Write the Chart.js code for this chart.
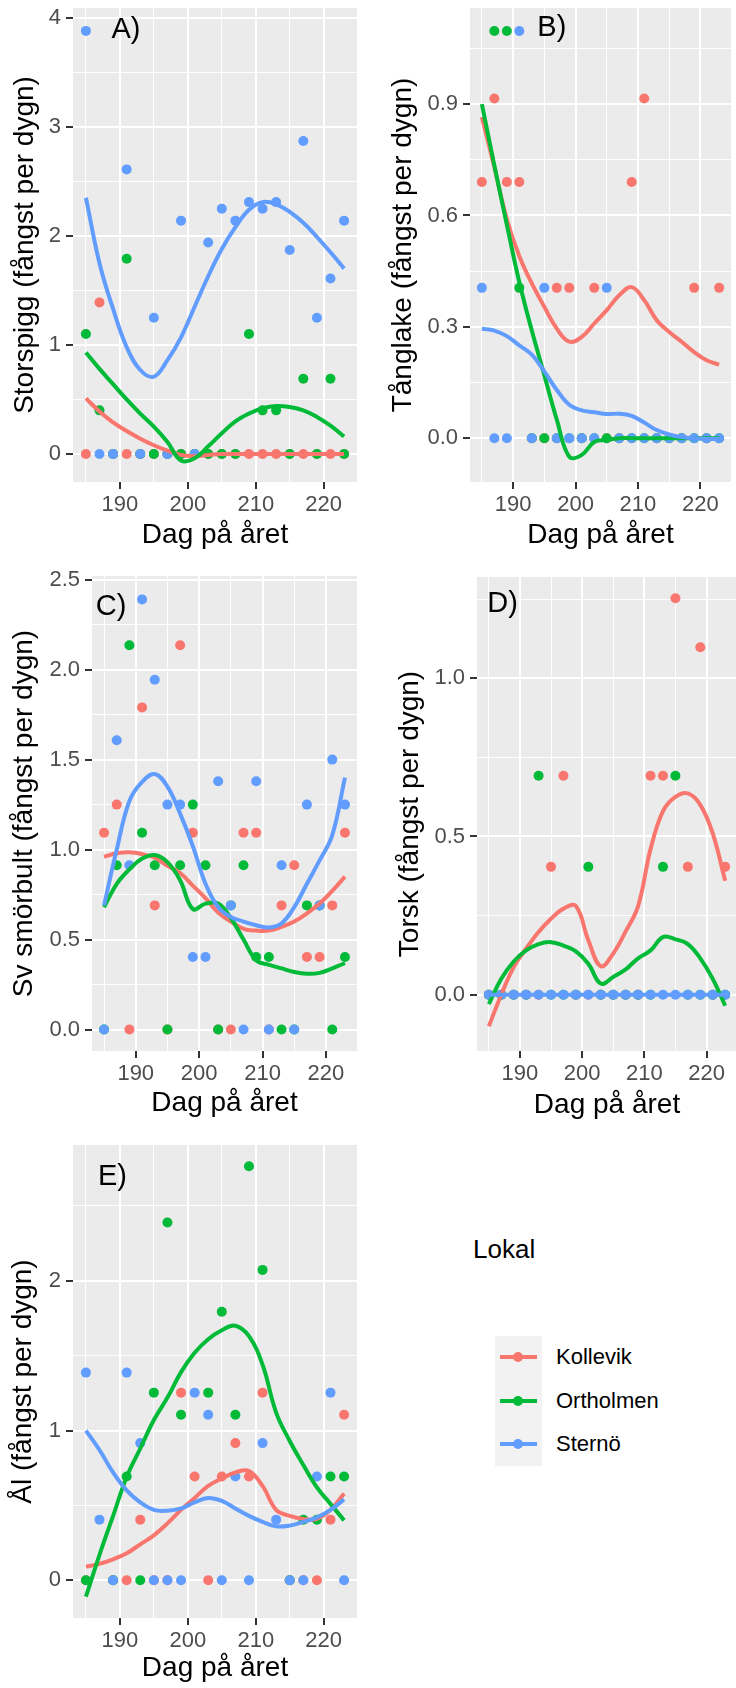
<!DOCTYPE html>
<html>
<head>
<meta charset="utf-8">
<script src="https://cdn.jsdelivr.net/npm/chart.js@4.4.1/dist/chart.umd.min.js"></script>
<style>
  body { margin: 0; background: #ffffff; }
  #page { position: relative; width: 736px; height: 1688px; overflow: hidden; font-family: "Liberation Sans", Arial, sans-serif; }
  #page canvas { position: absolute; }
  .lg { position: absolute; }
</style>
</head>
<body>
<div id="page">
  <canvas id="panelA" width="366" height="560" style="left:0px;top:0px"></canvas>
  <canvas id="panelB" width="370" height="560" style="left:366px;top:0px"></canvas>
  <canvas id="panelC" width="366" height="580" style="left:0px;top:560px"></canvas>
  <canvas id="panelD" width="376" height="580" style="left:366px;top:560px"></canvas>
  <canvas id="panelE" width="366" height="548" style="left:0px;top:1140px"></canvas>
</div>
<script>
// sampling days (day of year)
const days = [185, 187, 189, 191, 193, 195, 197, 199, 201, 203, 205, 207, 209, 211, 213, 215, 217, 219, 221, 223];
const sites = ['Kollevik', 'Ortholmen', 'Sternö'];
const siteColors = ['#F8766D', '#00BA38', '#619CFF'];
const xTickLabels = [190, 200, 210, 220];

// A) Storspigg
const storspiggTicks = [0, 1, 2, 3, 4];
const storspiggKollevik = [0, 1.39, 0, 0, 0, 0, 0, 0, 0, 0, 0, 0, 0, 0, 0, 0, 0, 0, 0, 0];
const storspiggOrtholmen = [1.10, 0.40, 0, 1.79, 0, 0, 0, 0, 0, 0, 0, 0, 1.10, 0.40, 0.40, 0, 0.69, 0, 0.69, 0];
const storspiggSterno = [3.88, 0, 0, 2.61, 0, 1.25, 0, 2.14, 0, 1.94, 2.25, 2.14, 2.31, 2.25, 2.31, 1.87, 2.87, 1.25, 1.61, 2.14];
const storspiggKollevikFit = [0.51, 0.39, 0.29, 0.21, 0.14, 0.08, 0.03, -0.01, -0.02, -0.01, 0, 0, 0, 0, 0, 0, 0, 0, 0, 0];
const storspiggOrtholmenFit = [0.93, 0.78, 0.64, 0.50, 0.37, 0.25, 0.11, -0.06, -0.04, 0.07, 0.19, 0.30, 0.37, 0.42, 0.44, 0.43, 0.40, 0.34, 0.26, 0.16];
const storspiggSternoFit = [2.35, 1.75, 1.33, 0.98, 0.77, 0.71, 0.86, 1.07, 1.35, 1.63, 1.88, 2.08, 2.24, 2.31, 2.29, 2.22, 2.12, 1.99, 1.85, 1.70];

// B) Tånglake
const tanglakeTicks = [0, 0.3, 0.6, 0.9];
const tanglakeKollevik = [0.69, 0.915, 0.69, 0.69, 0, 0, 0.405, 0.405, 0, 0.405, 0, 0, 0.69, 0.915, 0, 0, 0, 0.405, 0, 0.405];
const tanglakeOrtholmen = [null, 1.097, 1.097, 0.405, 0, 0, 0, 0, 0, 0, 0, 0, 0, 0, 0, 0, 0, 0, 0, 0];
const tanglakeSterno = [0.405, 0, 0, 1.097, 0, 0.405, 0, 0, 0, 0, 0.405, 0, 0, 0, 0, 0, 0, 0, 0, 0];
const tanglakeKollevikFit = [0.865, 0.73, 0.59, 0.49, 0.417, 0.354, 0.295, 0.26, 0.273, 0.309, 0.345, 0.385, 0.407, 0.372, 0.318, 0.286, 0.26, 0.232, 0.21, 0.198];
const tanglakeOrtholmenFit = [0.90, 0.735, 0.575, 0.42, 0.29, 0.17, 0.05, -0.05, -0.045, -0.01, -0.005, 0, 0, 0, 0, 0, 0, 0, 0, 0];
const tanglakeSternoFit = [0.295, 0.29, 0.275, 0.25, 0.225, 0.18, 0.13, 0.09, 0.075, 0.07, 0.065, 0.066, 0.06, 0.042, 0.022, 0.01, 0.003, 0, -0.002, -0.002];

// C) Sv smörbult
const smorbultTicks = [0, 0.5, 1, 1.5, 2, 2.5];
const smorbultKollevik = [1.094, 1.25, 0, 1.79, 0.69, 0, 2.135, 1.094, null, 0, 0, 1.094, 1.094, 0, 0.69, 0.913, 0.403, 0.403, 0.69, 1.094];
const smorbultOrtholmen = [0, 0.913, 2.135, 1.094, 0.913, 0, 0.913, 1.25, 0.913, 0, 0.69, 0.913, 0.403, 0.403, 0, 0, 0.69, 0.69, 0, 0.403];
const smorbultSterno = [0, 1.607, 0.913, 2.39, 1.944, 1.25, 1.25, 0.403, 0.403, 1.38, 0.69, 0, 1.38, 0, 0.913, 0, 1.25, 0.69, 1.50, 1.25];
const smorbultKollevikFit = [0.96, 0.98, 0.985, 0.975, 0.955, 0.91, 0.87, 0.80, 0.73, 0.65, 0.60, 0.56, 0.55, 0.55, 0.57, 0.60, 0.645, 0.70, 0.77, 0.85];
const smorbultOrtholmenFit = [0.68, 0.81, 0.89, 0.95, 0.97, 0.93, 0.83, 0.67, 0.70, 0.70, 0.62, 0.50, 0.385, 0.36, 0.34, 0.32, 0.31, 0.315, 0.34, 0.37];
const smorbultSternoFit = [0.69, 1.0, 1.27, 1.376, 1.42, 1.35, 1.2, 1.02, 0.81, 0.68, 0.626, 0.60, 0.58, 0.567, 0.59, 0.68, 0.81, 0.94, 1.08, 1.40];

// D) Torsk
const torskTicks = [0, 0.5, 1];
const torskKollevik = [0, 0, 0, 0, 0, 0.404, 0.692, 0, 0, 0, 0, 0, 0, 0.692, 0.692, 1.253, 0.404, 1.098, 0, 0.404];
const torskOrtholmen = [0, 0, 0, 0, 0.692, 0, 0, 0, 0.404, 0, 0, 0, 0, 0, 0.404, 0.692, 0, 0, 0, 0];
const torskSterno = [0, 0, 0, 0, 0, 0, 0, 0, 0, 0, 0, 0, 0, 0, 0, 0, 0, 0, 0, 0];
const torskKollevikFit = [-0.10, 0.0, 0.087, 0.146, 0.198, 0.24, 0.272, 0.28, 0.172, 0.09, 0.13, 0.20, 0.28, 0.46, 0.58, 0.625, 0.636, 0.60, 0.51, 0.36];
const torskOrtholmenFit = [-0.03, 0.05, 0.105, 0.14, 0.16, 0.166, 0.155, 0.137, 0.098, 0.035, 0.056, 0.08, 0.115, 0.14, 0.182, 0.175, 0.16, 0.115, 0.05, -0.035];
const torskSternoFit = [0, 0, 0, 0, 0, 0, 0, 0, 0, 0, 0, 0, 0, 0, 0, 0, 0, 0, 0, 0];

// E) Ål
const alTicks = [0, 1, 2];
const alKollevik = [0, null, 0, 0, 0.405, 0, 0, 1.253, 0.693, 0, 0.693, 0.916, 0.693, 1.253, null, 0, 0, 0, 0.405, 1.105];
const alOrtholmen = [0, null, 0, 0.693, 0, 1.253, 2.39, 1.105, null, 1.253, 1.793, 1.105, 2.765, 2.073, null, 0, 0.405, 0.405, 0.693, 0.693];
const alSterno = [1.387, 0.405, 0, 1.387, 0.916, 0, 0, 0, 1.253, 1.105, 0, 0.693, 0, 0.916, 0.405, 0, 0, 0.693, 1.253, 0];
const alKollevikFit = [0.09, 0.11, 0.14, 0.18, 0.24, 0.30, 0.38, 0.47, 0.55, 0.63, 0.68, 0.72, 0.73, 0.63, 0.47, 0.43, 0.41, 0.41, 0.47, 0.58];
const alOrtholmenFit = [-0.11, 0.17, 0.43, 0.69, 0.88, 1.07, 1.22, 1.39, 1.52, 1.61, 1.67, 1.70, 1.63, 1.44, 1.12, 0.93, 0.77, 0.62, 0.51, 0.40];
const alSternoFit = [1.0, 0.87, 0.72, 0.60, 0.52, 0.47, 0.465, 0.48, 0.52, 0.55, 0.53, 0.48, 0.43, 0.39, 0.36, 0.365, 0.39, 0.42, 0.47, 0.54];

const FONT = '"Liberation Sans", Arial, sans-serif';
Chart.defaults.font.family = FONT;

const panels = [
  { id: 'panelA', title: 'Storspigg (fångst per dygn)', label: 'A)', labelAt: [190.9, 3.885],
    ticks: storspiggTicks, minor: 0.5, decimals: 0, yMin: -0.257, yMax: 4.09,
    points: [storspiggKollevik, storspiggOrtholmen, storspiggSterno],
    fits: [storspiggKollevikFit, storspiggOrtholmenFit, storspiggSternoFit],
    box: { left: 73, top: 8, right: 357, bottom: 482, yTitleX: 25, xTitleY: 535 } },
  { id: 'panelB', title: 'Tånglake (fångst per dygn)', label: 'B)', labelAt: [196.2, 1.104],
    ticks: tanglakeTicks, minor: 0.15, decimals: 1, yMin: -0.118, yMax: 1.159,
    points: [tanglakeKollevik, tanglakeOrtholmen, tanglakeSterno],
    fits: [tanglakeKollevikFit, tanglakeOrtholmenFit, tanglakeSternoFit],
    box: { left: 104, top: 8, right: 369, bottom: 482, yTitleX: 37, xTitleY: 535 } },
  { id: 'panelC', title: 'Sv smörbult (fångst per dygn)', label: 'C)', labelAt: [186.1, 2.345],
    ticks: smorbultTicks, minor: 0.25, decimals: 1, yMin: -0.119, yMax: 2.52,
    points: [smorbultKollevik, smorbultOrtholmen, smorbultSterno],
    fits: [smorbultKollevikFit, smorbultOrtholmenFit, smorbultSternoFit],
    box: { left: 92, top: 16, right: 357, bottom: 491, yTitleX: 24, xTitleY: 543 } },
  { id: 'panelD', title: 'Torsk (fångst per dygn)', label: 'D)', labelAt: [187.2, 1.235],
    ticks: torskTicks, minor: 0.25, decimals: 1, yMin: -0.178, yMax: 1.32,
    points: [torskKollevik, torskOrtholmen, torskSterno],
    fits: [torskKollevikFit, torskOrtholmenFit, torskSternoFit],
    box: { left: 111, top: 17, right: 374, bottom: 491, yTitleX: 44, xTitleY: 545 } },
  { id: 'panelE', title: 'Ål (fångst per dygn)', label: 'E)', labelAt: [188.9, 2.693],
    ticks: alTicks, minor: 0.5, decimals: 0, yMin: -0.252, yMax: 2.907,
    points: [alKollevik, alOrtholmen, alSterno],
    fits: [alKollevikFit, alOrtholmenFit, alSternoFit],
    box: { left: 73, top: 5, right: 357, bottom: 478, yTitleX: 23, xTitleY: 528 } }
];

function isMajor(v, list) {
  return list.some(m => Math.abs(m - v) < 1e-6);
}

function pairs(vals) {
  const out = [];
  vals.forEach((v, i) => { if (v !== null) out.push({ x: days[i], y: v }); });
  return out;
}

const panelBackground = {
  id: 'panelBackground',
  beforeDraw(chart) {
    const { ctx, chartArea: a } = chart;
    ctx.save();
    ctx.fillStyle = '#EBEBEB';
    ctx.fillRect(a.left, a.top, a.right - a.left, a.bottom - a.top);
    ctx.restore();
  }
};

panels.forEach(p => {
  const canvas = document.getElementById(p.id);
  const W = canvas.width, H = canvas.height;
  const b = p.box;
  const titleHalf = 28 * 1.2 / 2;

  const datasets = [];
  // smoothed lines drawn above the points (lower order = on top)
  p.fits.forEach((vals, s) => datasets.push({
    label: sites[s] + ' fit',
    data: pairs(vals),
    showLine: true,
    borderColor: siteColors[s],
    borderWidth: 4,
    pointRadius: 0,
    tension: 0.4,
    fill: false,
    order: 2 - s
  }));
  p.points.forEach((vals, s) => datasets.push({
    label: sites[s],
    data: pairs(vals),
    backgroundColor: siteColors[s],
    borderWidth: 0,
    pointRadius: 5,
    pointHoverRadius: 5,
    order: 5 - s
  }));

  const panelLabel = {
    id: 'panelLabel',
    afterDatasetsDraw(chart) {
      const { ctx, scales } = chart;
      ctx.save();
      ctx.font = '29px ' + FONT;
      ctx.fillStyle = '#000000';
      ctx.textAlign = 'center';
      ctx.textBaseline = 'middle';
      ctx.fillText(p.label, scales.x.getPixelForValue(p.labelAt[0]), scales.y.getPixelForValue(p.labelAt[1]));
      ctx.restore();
    }
  };

  new Chart(canvas, {
    type: 'scatter',
    data: { datasets },
    options: {
      responsive: false,
      animation: false,
      devicePixelRatio: 1,
      layout: { padding: { top: b.top, right: W - b.right, left: 0, bottom: 0 } },
      plugins: { legend: { display: false }, tooltip: { enabled: false } },
      scales: {
        x: {
          type: 'linear',
          min: 183.1,
          max: 224.9,
          ticks: {
            stepSize: 5,
            autoSkip: false,
            maxRotation: 0,
            includeBounds: false,
            padding: 3,
            color: '#4D4D4D',
            font: { size: 22 },
            callback: v => isMajor(v, xTickLabels) ? String(v) : ''
          },
          grid: {
            color: '#FFFFFF',
            lineWidth: c => (c.tick && isMajor(c.tick.value, xTickLabels)) ? 2 : 1,
            tickLength: 7,
            tickWidth: 2,
            tickColor: c => (c.tick && isMajor(c.tick.value, xTickLabels)) ? '#333333' : 'rgba(0,0,0,0)'
          },
          border: { display: false },
          title: {
            display: true,
            text: 'Dag på året',
            color: '#000000',
            font: { size: 28 },
            padding: { top: 0, bottom: (H - b.xTitleY) - titleHalf }
          },
          afterFit: s => {
            s.height = H - b.bottom;
            s.paddingLeft = 0; s.paddingRight = 0;
          }
        },
        y: {
          type: 'linear',
          min: p.yMin,
          max: p.yMax,
          ticks: {
            stepSize: p.minor,
            autoSkip: false,
            includeBounds: false,
            padding: 5,
            color: '#4D4D4D',
            font: { size: 22 },
            callback: v => isMajor(v, p.ticks) ? Number(v).toFixed(p.decimals) : ''
          },
          grid: {
            color: '#FFFFFF',
            lineWidth: c => (c.tick && isMajor(c.tick.value, p.ticks)) ? 2 : 1,
            tickLength: 7,
            tickWidth: 2,
            tickColor: c => (c.tick && isMajor(c.tick.value, p.ticks)) ? '#333333' : 'rgba(0,0,0,0)'
          },
          border: { display: false },
          title: {
            display: true,
            text: p.title,
            color: '#000000',
            font: { size: 28 },
            padding: { top: b.yTitleX - titleHalf, bottom: 0 }
          },
          afterFit: s => {
            s.width = b.left;
            s.paddingTop = 0; s.paddingBottom = 0;
          }
        }
      }
    },
    plugins: [panelBackground, panelLabel]
  });
});

// legend
const page = document.getElementById('page');
function addDiv(style, text) {
  const d = document.createElement('div');
  d.className = 'lg';
  Object.assign(d.style, style);
  if (text) d.textContent = text;
  page.appendChild(d);
  return d;
}
addDiv({ left: '473px', top: '1234px', fontSize: '26px', lineHeight: '30px', color: '#000' }, 'Lokal');
addDiv({ left: '495px', top: '1336px', width: '47px', height: '130px', background: '#F2F2F2' });
const keyCentres = [1357, 1401, 1444];
sites.forEach((name, i) => {
  const cy = keyCentres[i];
  addDiv({ left: '500px', top: (cy - 2) + 'px', width: '37px', height: '4px', background: siteColors[i] });
  addDiv({ left: '513px', top: (cy - 5) + 'px', width: '10px', height: '10px', borderRadius: '50%', background: siteColors[i] });
  addDiv({ left: '556px', top: (cy - 13) + 'px', fontSize: '22px', lineHeight: '26px', color: '#000' }, name);
});
</script>
</body>
</html>
